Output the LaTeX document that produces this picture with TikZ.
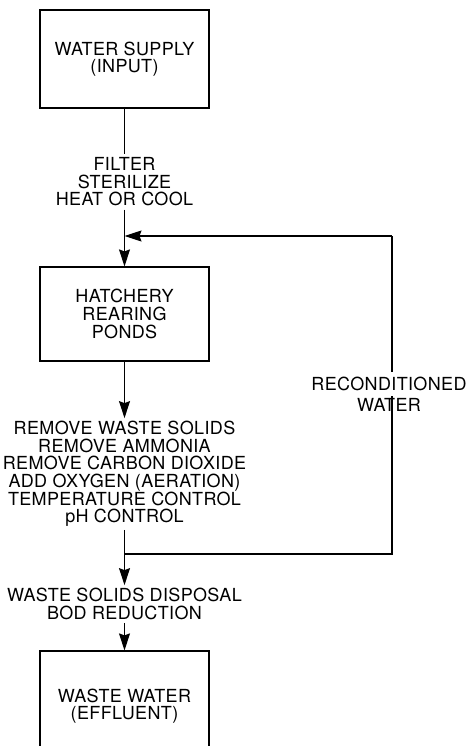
\documentclass[tikz,border=0pt]{standalone}
\usepackage{fontspec}
\setmainfont{TeX Gyre Heros}[LetterSpace=2]
\usetikzlibrary{arrows.meta,calc,positioning}

\begin{document}
\begin{tikzpicture}[x=1pt,y=-1pt,
  font=\fontsize{18}{17.6}\selectfont,
  box/.style={draw,line width=1.2pt,minimum width=169pt,minimum height=98pt,align=center,inner sep=0pt},
  lbl/.style={align=center,inner sep=3pt},
  flow/.style={line width=1.2pt},
  arr/.style={flow,-{Stealth[length=17pt,width=11pt,inset=2pt]}}]
\useasboundingbox (0,0) rectangle (467,746);
\clip (0,0) rectangle (467,746);
% main line
\node[box] (supply) at (124.5,59) {WATER SUPPLY\\(INPUT)};
\node[lbl] (filt) at (124.5,182) {FILTER\\STERILIZE\\HEAT OR COOL};
\node[box,minimum height=94pt] (ponds) at (124.5,314) {HATCHERY\\REARING\\PONDS};
\node[lbl] (treat) at (124.5,474) {REMOVE WASTE SOLIDS\\REMOVE AMMONIA\\REMOVE CARBON DIOXIDE\\ADD OXYGEN (AERATION)\\TEMPERATURE CONTROL\\pH CONTROL};
\node[lbl] (disp) at (124.5,604) {WASTE SOLIDS DISPOSAL\\BOD REDUCTION};
\node[box,minimum height=110pt] (waste) at (124.5,706) {WASTE WATER\\(EFFLUENT)};
\draw[flow] (supply) -- (filt);
\draw[arr] (filt) -- (ponds);
\draw[arr] (ponds) -- (treat);
\draw[arr] (treat) -- (disp);
\draw[arr] (disp) -- (waste);
% recycle loop
\coordinate (fbTop) at (392,236);
\coordinate (fbBot) at (392,554);
\draw[flow] (treat.south |- fbBot) -- (fbBot) -- (fbTop);
\draw[arr] (fbTop) -- (fbTop -| ponds.north);
\node[fill=white,inner xsep=2pt,inner ysep=5pt] (recon) at (389,384) {RECONDITIONED};
\node[inner sep=0pt] (water) at (389,405) {WATER};
\end{tikzpicture}
\end{document}
